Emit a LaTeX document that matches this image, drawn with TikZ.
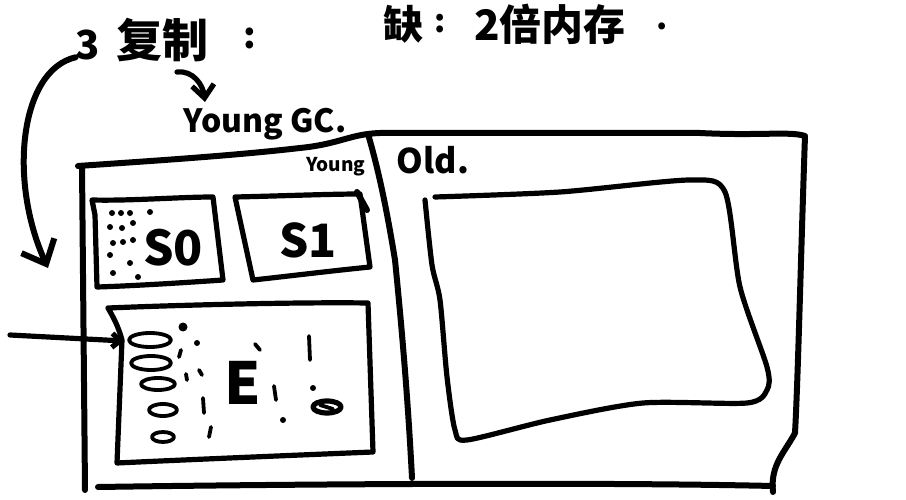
\documentclass[tikz,border=0pt]{standalone}
\usepackage{fontspec}
\setmainfont{Noto Sans CJK SC}
\usetikzlibrary{arrows.meta}
\begin{document}
\begin{tikzpicture}[x=1pt,y=-1pt, line cap=round, line join=round,
  pen/.style={line width=6pt},
  boxpen/.style={line width=5.2pt},
  thinpen/.style={line width=3.8pt},
  lbl/.style={inner sep=0pt, anchor=center, font=\bfseries},
  spot/.style={fill, circle, inner sep=0pt, minimum size=#1},
  spot/.default=6pt]
\useasboundingbox (0,0) rectangle (906,500);
\fill[white] (0,0) rectangle (906,500);

% ---- texts ----
\node[lbl, font=\bfseries\fontsize{40}{40}\selectfont] (three) at (88,45) {3};
\node[lbl, font=\bfseries\fontsize{46}{46}\selectfont] (copy) at (162,40) {复制};
\node[lbl, font=\bfseries\fontsize{36}{36}\selectfont] (colon1) at (250,38) {:};
\node[lbl, font=\bfseries\fontsize{40}{40}\selectfont] (lack) at (403,24) {缺};
\node[lbl, font=\bfseries\fontsize{32}{32}\selectfont] (colon2) at (440,24) {:};
\node[lbl, font=\bfseries\fontsize{42}{42}\selectfont] (mem) at (550,24) {2倍内存};
\node[lbl, font=\bfseries\fontsize{32}{32}\selectfont] (dot2) at (662,26) {.};
\node[lbl, font=\bfseries\fontsize{32}{32}\selectfont] (ygc) at (265,124) {Young GC.};
\node[lbl, font=\bfseries\fontsize{34}{34}\selectfont] (old) at (433,160) {Old.};
\node[lbl, font=\bfseries\fontsize{19}{19}\selectfont] (young) at (336,167) {Young};

% ---- heap outline ----
\draw[pen] (78,166) .. controls (150,161) and (230,156) .. (300,148)
  .. controls (340,144) and (350,134) .. (380,133) -- (700,133)
  .. controls (760,136) and (790,131) .. (805,136)
  .. controls (801,250) and (798,380) .. (795,433)
  .. controls (785,452) and (770,465) .. (773,492);
\draw[pen] (82,166) -- (85,490);
\draw[pen] (98,487) .. controls (300,484) and (600,482) .. (773,486);
\draw[pen] (368,134) .. controls (380,175) and (388,217) .. (395,260)
  .. controls (402,330) and (408,400) .. (412,478);
\draw[pen] (357,192) -- (367,210);

% ---- S0 ----
\draw[boxpen] (92,200) .. controls (130,201) and (180,197) .. (213,197)
  -- (223,280) .. controls (180,283) and (130,286) .. (97,287) -- (95,215) -- cycle;
\node[lbl, font=\bfseries\fontsize{48}{48}\selectfont] (s0) at (173,248) {S0};
\foreach \p in {(112,213),(121,213),(130,213),(150,212),(110,227),(122,228),(133,223),
  (113,243),(123,242),(133,240),(110,255),(130,263),(113,273),(138,277)}
  \node[spot] at \p {};

% ---- S1 ----
\draw[boxpen] (235,197) .. controls (280,196) and (330,194) .. (360,194)
  -- (370,267) .. controls (330,271) and (290,276) .. (253,280) -- cycle;
\node[lbl, font=\bfseries\fontsize{46}{46}\selectfont] (s1) at (308,240) {S1};

% ---- Eden ----
\draw[boxpen] (108,308) .. controls (180,305) and (300,302) .. (368,303)
  -- (373,452) .. controls (300,455) and (180,460) .. (117,463)
  -- (122,340) .. controls (118,325) and (112,315) .. (108,308);
\node[lbl, font=\bfseries\fontsize{58}{58}\selectfont] (e) at (243,383) {E};
\draw[thinpen] (150,340) ellipse [x radius=21pt, y radius=7pt];
\draw[thinpen] (151,363) ellipse [x radius=20pt, y radius=7pt];
\draw[thinpen] (158,384) ellipse [x radius=17pt, y radius=6pt];
\draw[thinpen] (163,410) ellipse [x radius=14pt, y radius=6pt];
\draw[thinpen] (163,437) ellipse [x radius=11pt, y radius=5pt];
\node[spot=9pt] at (183,327) {};
\node[spot] at (197,343) {};
\node[spot] at (283,420) {};
\node[spot] at (313,388) {};
\draw[thinpen] (181,350) -- (179,357);
\draw[thinpen] (186,374) -- (187,380);
\draw[thinpen] (199,370) -- (202,375);
\draw[thinpen] (203,398) -- (204,413);
\draw[thinpen] (211,427) -- (209,437);
\draw[thinpen] (255,344) -- (260,350);
\draw[thinpen] (274,386) -- (276,400);
\draw[thinpen] (309,336) -- (310,360);
\draw[boxpen] (327,407) ellipse [x radius=14pt, y radius=6pt];
\draw[thinpen] (320,405) -- (333,409);

% ---- Old inner box ----
\draw[boxpen] plot[smooth, tension=0.45] coordinates {(435,197) (560,192) (690,180) (725,192)
  (740,287) (767,367) (767,390) (747,403) (643,403) (550,420) (467,440) (455,430)
  (447,377) (440,300) (432,265) (425,200)};

% ---- arrows ----
\coordinate (curveend) at (48,268);
\coordinate (gcend) at (205,102);
\coordinate (instart) at (10,335);
\coordinate (inend) at (124,341);
\draw[pen, -{Straight Barb[length=20pt,width=36pt]}] (three.south west) ++(0,-3)
  .. controls (20,70) and (8,180) .. (curveend);
\draw[boxpen, -{Straight Barb[length=13pt,width=22pt]}] (copy.south) ++(15,10)
  .. controls (193,70) and (203,85) .. (gcend);
\draw[boxpen, -{Straight Barb[length=8pt,width=14pt]}] (instart) -- (inend);
\end{tikzpicture}
\end{document}
